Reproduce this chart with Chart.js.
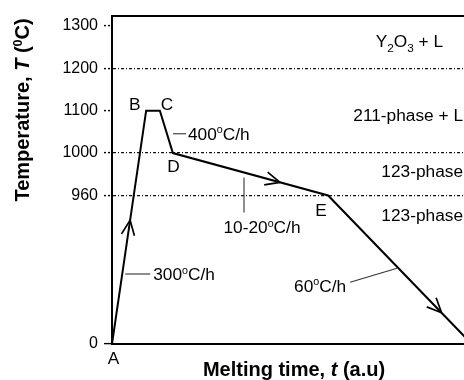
<!DOCTYPE html>
<html>
<head>
<meta charset="utf-8">
<title>Melting profile</title>
<script src="https://cdn.jsdelivr.net/npm/chart.js@4.4.1/dist/chart.umd.min.js"></script>
<style>
  html, body { margin: 0; padding: 0; background: #fff; }
  canvas { display: block; }
</style>
</head>
<body>
<canvas id="profile-chart" width="464" height="380"></canvas>
<script>
// Melt-growth profile: temperature (C) against time (a.u.)
const pointNames = ['A', 'B', 'C', 'D', 'E', ''];
const timeValues = [0, 9.7, 13.6, 17.3, 61.4, 102.2];
const tempValues = [0, 1100, 1100, 1000, 960, 0];

// Temperature ticks and the dotted phase boundaries
const tempTicks = [0, 960, 1000, 1100, 1200, 1300];
const boundaryTemps = [960, 1000, 1200];

// Phase fields and heating / cooling rates
const phaseNames = ['Y_2O_3 + L', '211-phase + L', '123-phase', '123-phase'];
const rateNames = ['300^0C/h', '400^0C/h', '10-20^0C/h', '60^0C/h'];

const xTitle = 'Melting time, *t* (a.u)';
const yTitle = 'Temperature, *T* (^0C)';

const FONT = '"Liberation Sans", Arial, sans-serif';

// where the labels go (offsets in px from the point / segment they belong to)
const pointLabelOffsets = [[1.5, 14], [-11.5, -6], [7, -6], [0.5, 13], [-7, 15]];
const phaseLabelPlace = [{t: 1264, dx: -21}, {t: 1089, dx: -1}, {t: 983, dx: -1}, {t: 835, dx: -1}];
const rateLabelPlace = [
  {seg: 0, at: 0.30, from: [3, 0], to: [28, 0], text: [31, 0], align: 'left'},
  {seg: 2, at: 0.545, from: [6, 0], to: [19, 0], text: [21, 0], align: 'left'},
  {seg: 3, at: 0.458, from: [0, 5], to: [0, 40], text: [18, 55], align: 'center'},
  {seg: 4, at: 0.48, from: [0, 1.5], to: [-47, 15.5], text: [-51, 19], align: 'right'}
];
const arrowPlace = [{seg: 0, at: 0.53}, {seg: 3, at: 0.69}, {seg: 4, at: 0.79}];

// Temperature axis is not linear: 0-960 is squeezed, then one step per tick
const scaleTemps = [0, 960, 1000, 1100, 1200, 1300];
const scaleSteps = [0, 3.5, 4.5, 5.5, 6.5, 7.5];

function tempToStep(t) {
  let i = 1;
  while (i < scaleTemps.length - 1 && t > scaleTemps[i]) i++;
  const t0 = scaleTemps[i - 1], t1 = scaleTemps[i];
  const s0 = scaleSteps[i - 1], s1 = scaleSteps[i];
  return s0 + (t - t0) * (s1 - s0) / (t1 - t0);
}

function stepToTemp(s) {
  let i = 1;
  while (i < scaleSteps.length - 1 && s > scaleSteps[i]) i++;
  const t0 = scaleTemps[i - 1], t1 = scaleTemps[i];
  const s0 = scaleSteps[i - 1], s1 = scaleSteps[i];
  return t0 + (s - s0) * (t1 - t0) / (s1 - s0);
}

class StepScale extends Chart.LinearScale {
  getPixelForValue(value) {
    const s0 = tempToStep(this.min), s1 = tempToStep(this.max);
    return this.getPixelForDecimal((tempToStep(value) - s0) / (s1 - s0));
  }
  getValueForPixel(pixel) {
    const s0 = tempToStep(this.min), s1 = tempToStep(this.max);
    return stepToTemp(s0 + this.getDecimalForPixel(pixel) * (s1 - s0));
  }
}
StepScale.id = 'steps';
StepScale.defaults = Chart.LinearScale.defaults;
Chart.register(StepScale);

// "Y_2O_3" -> subscripts, "^0" -> superscript, "*t*" -> italic
function splitRuns(str) {
  return str.split(/([_^]\w|\*\w+\*)/).filter(Boolean).map(function (s) {
    if (s[0] === '_') return {text: s[1], shift: -1};
    if (s[0] === '^') return {text: s[1], shift: 1};
    if (s[0] === '*') return {text: s.slice(1, -1), italic: true, shift: 0};
    return {text: s, shift: 0};
  });
}

// y is the middle of the capitals
function drawRich(ctx, str, x, y, opt) {
  const size = opt.size || 16;
  const weight = opt.bold ? 'bold ' : '';
  const runs = splitRuns(str);
  const fontOf = function (r) {
    const px = r.shift > 0 ? size * 0.62 : r.shift < 0 ? size * 0.68 : size;
    return (r.italic ? 'italic ' : '') + weight + px.toFixed(1) + 'px ' + FONT;
  };
  let width = 0;
  runs.forEach(function (r) {
    ctx.font = fontOf(r);
    r.w = ctx.measureText(r.text).width;
    width += r.w;
  });
  ctx.save();
  ctx.translate(x, y);
  if (opt.rotate) ctx.rotate(opt.rotate);
  ctx.scale(opt.stretch || 1, 1);
  ctx.fillStyle = '#000';
  ctx.textAlign = 'left';
  ctx.textBaseline = 'alphabetic';
  let cx = opt.align === 'right' ? -width : opt.align === 'left' ? 0 : -width / 2;
  runs.forEach(function (r) {
    ctx.font = fontOf(r);
    const dy = r.shift > 0 ? -size * 0.38 : r.shift < 0 ? size * 0.3 : 0;
    ctx.fillText(r.text, cx, size * 0.36 + dy);
    cx += r.w;
  });
  ctx.restore();
}

// arrows, rate leaders, point names, phase names and axis titles
const profileLabels = {
  id: 'profileLabels',
  afterDatasetsDraw(chart) {
    const ctx = chart.ctx;
    const area = chart.chartArea;
    const yScale = chart.scales.y;
    const pts = chart.getDatasetMeta(0).data.map(function (p) { return {x: p.x, y: p.y}; });

    function along(seg, f) {
      const a = pts[seg], b = pts[seg + 1];
      return {
        x: a.x + (b.x - a.x) * f,
        y: a.y + (b.y - a.y) * f,
        angle: Math.atan2(b.y - a.y, b.x - a.x)
      };
    }

    ctx.save();
    ctx.strokeStyle = '#000';
    ctx.lineWidth = 1.7;
    ctx.beginPath();
    arrowPlace.forEach(function (a) {
      const p = along(a.seg, a.at);
      const back = p.angle + Math.PI;
      [-1, 1].forEach(function (s) {
        ctx.moveTo(p.x, p.y);
        ctx.lineTo(p.x + 16 * Math.cos(back + s * 0.42), p.y + 16 * Math.sin(back + s * 0.42));
      });
    });
    ctx.stroke();

    ctx.strokeStyle = '#333';
    ctx.lineWidth = 1.1;
    rateLabelPlace.forEach(function (m, i) {
      const p = along(m.seg, m.at);
      ctx.beginPath();
      ctx.moveTo(p.x + m.from[0], p.y + m.from[1]);
      ctx.lineTo(p.x + m.to[0], p.y + m.to[1]);
      ctx.stroke();
      drawRich(ctx, rateNames[i], p.x + m.text[0], p.y + m.text[1], {align: m.align, stretch: 1.08});
    });

    pointNames.forEach(function (name, i) {
      if (!name) return;
      const o = pointLabelOffsets[i];
      drawRich(ctx, name, pts[i].x + o[0], pts[i].y + o[1], {stretch: 1.08});
    });

    phaseNames.forEach(function (name, i) {
      const place = phaseLabelPlace[i];
      drawRich(ctx, name, area.right + place.dx, yScale.getPixelForValue(place.t), {align: 'right', stretch: 1.08});
    });

    drawRich(ctx, xTitle, 294, 369, {size: 20, bold: true});
    drawRich(ctx, yTitle, 22, 110, {size: 20, bold: true, rotate: -Math.PI / 2});
    ctx.restore();
  }
};

new Chart(document.getElementById('profile-chart'), {
  type: 'line',
  data: {
    datasets: [{
      data: timeValues.map(function (t, i) { return {x: t, y: tempValues[i]}; }),
      borderColor: '#000',
      borderWidth: 2,
      pointRadius: 0,
      fill: false,
      tension: 0
    }]
  },
  options: {
    responsive: false,
    animation: false,
    devicePixelRatio: 1,
    events: [],
    layout: { padding: 0 },
    plugins: {
      legend: { display: false },
      tooltip: { enabled: false }
    },
    scales: {
      x: {
        type: 'linear',
        min: 0,
        max: 100,
        ticks: { display: false },
        grid: { display: false },
        border: { color: '#000', width: 2 },
        afterFit: function (s) { s.height = 36; }
      },
      frameTop: {
        type: 'linear',
        position: 'top',
        ticks: { display: false },
        grid: { display: false },
        border: { color: '#000', width: 2 },
        afterFit: function (s) { s.height = 11; }
      },
      y: {
        type: 'steps',
        min: 0,
        max: 1324,
        afterBuildTicks: function (s) { s.ticks = tempTicks.map(function (v) { return {value: v}; }); },
        afterFit: function (s) { s.width = 112; },
        ticks: {
          color: '#000',
          padding: 6,
          font: { family: FONT, size: 16 },
          callback: function (v) { return String(v); }
        },
        grid: {
          color: function (c) { return boundaryTemps.includes(c.tick.value) ? '#111' : 'rgba(0,0,0,0)'; },
          lineWidth: 1.2,
          tickLength: 8,
          tickWidth: 1.4,
          tickColor: '#000',
          tickBorderDash: function (c) { return c.tick.value === 0 ? [] : [2, 2]; }
        },
        border: { color: '#000', width: 2, dash: [3, 2, 1, 2] }
      }
    }
  },
  plugins: [profileLabels]
});
</script>
</body>
</html>
